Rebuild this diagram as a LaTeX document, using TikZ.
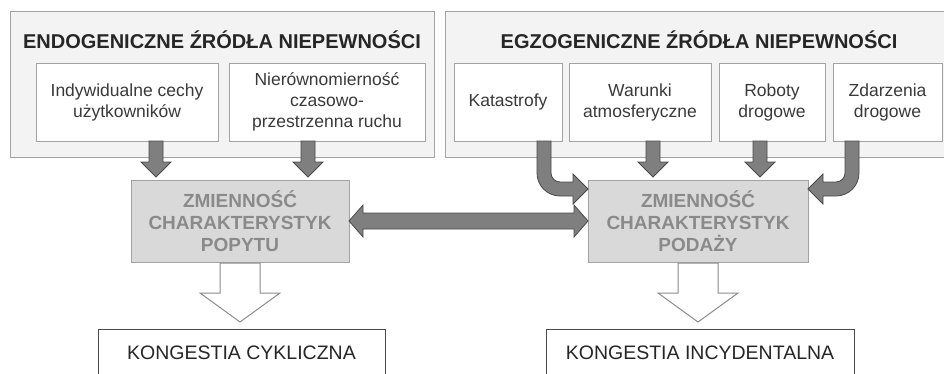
\documentclass[tikz,border=0pt]{standalone}
\usepackage{fontspec}
\setmainfont{Liberation Sans}
\usetikzlibrary{calc}

\definecolor{panelfill}{HTML}{F3F3F3}
\definecolor{framegray}{HTML}{A3A3A3}
\definecolor{varfill}{HTML}{D9D9D9}
\definecolor{vartext}{HTML}{8A8A8A}
\definecolor{arrowfill}{HTML}{7F7F7F}
\definecolor{arrowline}{HTML}{4A4A4A}
\definecolor{hollowline}{HTML}{8C8C8C}
\definecolor{textdark}{HTML}{262626}
\definecolor{textmid}{HTML}{3A3A3A}

% straight block arrow pointing down, from a source box to a target box
\newcommand\vblock[3]{%
  \draw[blockarrow] let \p1=(#2.south), \p2=(#3.north) in
    (#1pt-7pt,\y1) -- (#1pt+7pt,\y1) -- (#1pt+7pt,\y2+18pt) -- (#1pt+15pt,\y2+18pt)
    -- (#1pt,\y2+3pt) -- (#1pt-15pt,\y2+18pt) -- (#1pt-7pt,\y2+18pt) -- cycle;}

\begin{document}
\begin{tikzpicture}[x=1pt,y=1pt,
  panel/.style={draw=framegray, line width=1pt, fill=panelfill, inner sep=0pt, outer sep=0pt},
  paneltitle/.style={font=\fontsize{20}{24}\selectfont\bfseries, text=textdark, inner sep=0pt},
  src/.style={draw=framegray, line width=0.9pt, fill=white, minimum height=78, inner sep=0pt,
    outer sep=0pt, align=center, text=textmid, font=\fontsize{17.5}{21}\selectfont},
  var/.style={draw=framegray, line width=1pt, fill=varfill, minimum height=82, inner sep=0pt,
    outer sep=0pt, align=center, text=vartext, font=\fontsize{19}{22}\selectfont\bfseries},
  result/.style={draw=arrowline, line width=0.9pt, fill=white, minimum height=48, inner sep=0pt,
    outer sep=0pt, text=textdark, font=\fontsize{19.5}{23}\selectfont},
  blockarrow/.style={draw=arrowline, line width=0.8pt, fill=arrowfill, line join=miter},
  hollowarrow/.style={draw=hollowline, line width=1pt, fill=white, line join=miter}]

\useasboundingbox (0,0) rectangle (944,373);
\clip (0,0) rectangle (944,373);
\fill[white] (0,0) rectangle (944,373);

% the two panels of uncertainty sources
\node[panel, minimum width=424, minimum height=145] (endo) at (222,288.5) {};
\node[panel, minimum width=510, minimum height=145] (egzo) at (700,288.5) {};
\node[paneltitle] (endoT) at (222,333) {ENDOGENICZNE ŹRÓDŁA NIEPEWNOŚCI};
\node[paneltitle] (egzoT) at (699,333) {EGZOGENICZNE ŹRÓDŁA NIEPEWNOŚCI};

% individual sources
\node[src, minimum width=182] (ind)  at (127,271)   {Indywidualne cechy\\użytkowników};
\node[src, minimum width=196] (nier) at (327,271)   {Nierównomierność\\czasowo-\\przestrzenna ruchu};
\node[src, minimum width=108] (kat)  at (508,271)   {Katastrofy};
\node[src, minimum width=142] (war)  at (640,271)   {Warunki\\atmosferyczne};
\node[src, minimum width=106] (rob)  at (772,271)   {Roboty\\drogowe};
\node[src, minimum width=109] (zda)  at (887.5,271) {Zdarzenia\\drogowe};

% demand and supply variability
\node[var, minimum width=218] (popyt) at (240,152) {ZMIENNOŚĆ\\CHARAKTERYSTYK\\POPYTU};
\node[var, minimum width=220] (podaz) at (698,152) {ZMIENNOŚĆ\\CHARAKTERYSTYK\\PODAŻY};

% resulting congestion types
\node[result, minimum width=287] (cykl)  at (241.5,20) {KONGESTIA CYKLICZNA};
\node[result, minimum width=308] (incyd) at (700,20)   {KONGESTIA INCYDENTALNA};

% straight arrows into the variability boxes
\vblock{156}{ind}{popyt}
\vblock{308}{nier}{popyt}
\vblock{653}{war}{podaz}
\vblock{760}{rob}{podaz}

% bent arrow: Katastrofy -> supply box (enters from the left)
\draw[blockarrow] let \p1=(kat.south), \p2=(podaz.west) in
  (537pt,\y1) -- (537pt,\y2+48pt) arc[start angle=180, end angle=270, radius=23pt]
  -- (\x2-15pt,\y2+25pt) -- (\x2-15pt,\y2+17pt) -- (\x2,\y2+32pt) -- (\x2-15pt,\y2+47pt)
  -- (\x2-15pt,\y2+39pt) -- (560pt,\y2+39pt) arc[start angle=270, end angle=180, radius=9pt]
  -- (551pt,\y1) -- cycle;

% bent arrow: Zdarzenia drogowe -> supply box (enters from the right)
\draw[blockarrow] let \p1=(zda.south), \p2=(podaz.east) in
  (859pt,\y1) -- (859pt,\y2+48pt) arc[start angle=0, end angle=-90, radius=23pt]
  -- (\x2+15pt,\y2+25pt) -- (\x2+15pt,\y2+17pt) -- (\x2,\y2+32pt) -- (\x2+15pt,\y2+47pt)
  -- (\x2+15pt,\y2+39pt) -- (836pt,\y2+39pt) arc[start angle=-90, end angle=0, radius=9pt]
  -- (845pt,\y1) -- cycle;

% two-headed arrow between demand and supply
\draw[blockarrow] let \p1=(popyt.east), \p2=(podaz.west) in
  (\x1,\y1) -- (\x1+14pt,\y1+16pt) -- (\x1+14pt,\y1+8pt) -- (\x2-14pt,\y1+8pt)
  -- (\x2-14pt,\y1+16pt) -- (\x2,\y1) -- (\x2-14pt,\y1-16pt) -- (\x2-14pt,\y1-8pt)
  -- (\x1+14pt,\y1-8pt) -- (\x1+14pt,\y1-16pt) -- cycle;

% hollow arrows down to the congestion types
\draw[hollowarrow] let \p1=(popyt.south), \p2=(cykl.north) in
  (\x1-20pt,\y1-1pt) -- (\x1+20pt,\y1-1pt) -- (\x1+20pt,\y2+36pt) -- (\x1+40pt,\y2+36pt)
  -- (\x1,\y2+7pt) -- (\x1-40pt,\y2+36pt) -- (\x1-20pt,\y2+36pt) -- cycle;
\draw[hollowarrow] let \p1=(podaz.south), \p2=(incyd.north) in
  (\x1-20pt,\y1-1pt) -- (\x1+20pt,\y1-1pt) -- (\x1+20pt,\y2+36pt) -- (\x1+40pt,\y2+36pt)
  -- (\x1,\y2+7pt) -- (\x1-40pt,\y2+36pt) -- (\x1-20pt,\y2+36pt) -- cycle;
\end{tikzpicture}
\end{document}
